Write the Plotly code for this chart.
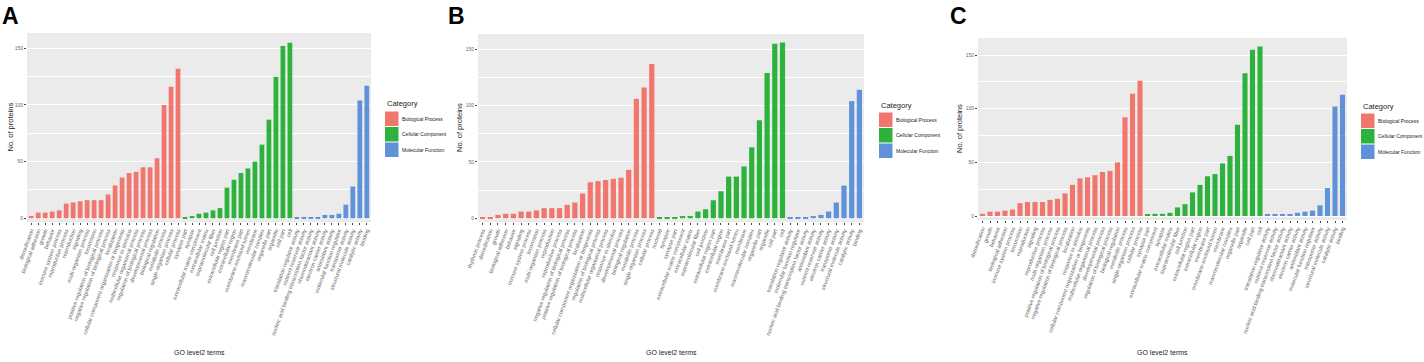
import plotly.graph_objects as go

W, H = 1424, 362

# ---------------- DATA ----------------
cat_names = ["Biological Process", "Cellular Component", "Molecular Function"]
cat_colors = ["#F0766E", "#2DB23E", "#5F92D8"]

# Panel A
a_bp_terms = ["detoxification", "biological adhesion", "growth", "behavior", "immune system process",
              "reproductive process", "reproduction", "signaling", "multi-organism process", "locomotion",
              "positive regulation of biological process", "negative regulation of biological process",
              "localization", "cellular component organization or biogenesis", "response to stimulus",
              "multicellular organismal process", "regulation of biological process", "developmental process",
              "biological regulation", "metabolic process", "single-organism process", "cellular process"]
a_bp_vals = [2, 5, 5, 6, 7, 13, 14, 15, 16, 16, 16, 21, 29, 36, 40, 41, 45, 45, 53, 100, 116, 132]
a_cc_terms = ["synapse part", "synapse", "extracellular matrix component", "extracellular matrix",
              "supramolecular fiber", "cell junction", "extracellular region part", "extracellular region",
              "membrane part", "membrane-enclosed lumen", "membrane", "macromolecular complex",
              "organelle part", "organelle", "cell part", "cell"]
a_cc_vals = [1, 2, 4, 5, 7, 9, 27, 34, 40, 44, 50, 65, 87, 125, 152, 155]
a_mf_terms = ["translation regulator activity", "nutrient reservoir activity",
              "nucleic acid binding transcription factor activity", "chemoattractant activity",
              "electron carrier activity", "antioxidant activity", "molecular function regulator",
              "transporter activity", "structural molecule activity", "catalytic activity", "binding"]
a_mf_vals = [1, 1, 1, 1, 3, 3, 4, 12, 28, 104, 117]

# Panel B
b_bp_terms = ["rhythmic process", "detoxification", "growth", "biological adhesion", "behavior", "signaling",
              "immune system process", "locomotion", "multi-organism process", "reproduction",
              "reproductive process", "negative regulation of biological process",
              "positive regulation of biological process", "localization",
              "cellular component organization or biogenesis", "regulation of biological process",
              "multicellular organismal process", "response to stimulus", "developmental process",
              "biological regulation", "metabolic process", "single-organism process", "cellular process"]
b_bp_vals = [1, 1, 3, 4, 4, 6, 6, 7, 9, 9, 9, 12, 14, 22, 32, 33, 34, 35, 36, 43, 106, 116, 137]
b_cc_terms = ["nucleoid", "synapse", "synapse part", "extracellular matrix component", "extracellular matrix",
              "supramolecular fiber", "cell junction", "extracellular region part", "extracellular region",
              "membrane part", "membrane-enclosed lumen", "membrane", "macromolecular complex",
              "organelle part", "organelle", "cell part", "cell"]
b_cc_vals = [1, 1, 1, 2, 2, 6, 8, 16, 24, 37, 37, 46, 63, 87, 129, 155, 156]
b_mf_terms = ["translation regulator activity", "molecular function regulator",
              "nucleic acid binding transcription factor activity", "antioxidant activity",
              "nutrient reservoir activity", "electron carrier activity", "transporter activity",
              "structural molecule activity", "catalytic activity", "binding"]
b_mf_vals = [1, 1, 1, 2, 3, 6, 14, 29, 104, 114]

# Panel C
c_bp_terms = ["detoxification", "growth", "behavior", "biological adhesion", "immune system process",
              "locomotion", "reproduction", "signaling", "reproductive process", "multi-organism process",
              "positive regulation of biological process", "negative regulation of biological process",
              "localization", "response to stimulus", "cellular component organization or biogenesis",
              "multicellular organismal process", "developmental process", "regulation of biological process",
              "biological regulation", "metabolic process", "single-organism process", "cellular process"]
c_bp_vals = [2, 4, 4, 5, 6, 12, 13, 13, 13, 15, 16, 21, 29, 35, 36, 38, 41, 42, 50, 92, 114, 126]
c_cc_terms = ["synapse part", "extracellular matrix component", "synapse", "extracellular matrix",
              "supramolecular fiber", "cell junction", "extracellular region part", "extracellular region",
              "membrane part", "membrane-enclosed lumen", "membrane", "macromolecular complex",
              "organelle part", "organelle", "cell part", "cell"]
c_cc_vals = [1, 2, 2, 3, 8, 11, 22, 29, 37, 39, 49, 56, 85, 133, 155, 158]
c_mf_terms = ["translation regulator activity", "nutrient reservoir activity",
              "nucleic acid binding transcription factor activity", "chemoattractant activity",
              "electron carrier activity", "antioxidant activity", "molecular function regulator",
              "transporter activity", "structural molecule activity", "catalytic activity", "binding"]
c_mf_vals = [1, 1, 1, 1, 3, 4, 5, 10, 26, 102, 113]

y_ticks = [0, 50, 100, 150]
y_minor = [25, 75, 125]
panel_letters = ["A", "B", "C"]

panels = [
    [(a_bp_terms, a_bp_vals), (a_cc_terms, a_cc_vals), (a_mf_terms, a_mf_vals)],
    [(b_bp_terms, b_bp_vals), (b_cc_terms, b_cc_vals), (b_mf_terms, b_mf_vals)],
    [(c_bp_terms, c_bp_vals), (c_cc_terms, c_cc_vals), (c_mf_terms, c_mf_vals)],
]

# ---------------- LAYOUT (pixels) ----------------
geo = [
    dict(left=27, right=371, top=33, zero=218.3, ppu=1.1333, bottom=222, leg_x=385, leg_y=104, letter_x=0, ytitle_x=10),
    dict(left=478, right=864, top=34, zero=218.3, ppu=1.1267, bottom=222, leg_x=879, leg_y=105, letter_x=446, ytitle_x=459),
    dict(left=978, right=1347, top=38, zero=216, ppu=1.0733, bottom=220, leg_x=1361, leg_y=106, letter_x=948, ytitle_x=960),
]

FONT = "Liberation Sans, Arial, sans-serif"


def px_x(p):
    return p / W


def px_y(p):
    return 1 - p / H


fig = go.Figure()
layout = dict(
    width=W, height=H, margin=dict(l=0, r=0, t=0, b=0),
    paper_bgcolor="white", plot_bgcolor="#EBEBEB", showlegend=False,
    font=dict(family=FONT),
)
annotations = []
shapes = []

for pi, (panel, g) in enumerate(zip(panels, geo)):
    sfx = "" if pi == 0 else str(pi + 1)
    xa, ya = "x" + sfx, "y" + sfx
    all_terms = []
    for ci, (terms, vals) in enumerate(panel):
        start = len(all_terms)
        xs = list(range(start, start + len(terms)))
        all_terms += terms
        fig.add_trace(go.Bar(x=xs, y=vals, marker=dict(color=cat_colors[ci], line=dict(width=0)),
                             width=0.68, xaxis=xa, yaxis=ya, name=cat_names[ci], hoverinfo="y"))
    n = len(all_terms)
    lo = -(g["bottom"] - g["zero"]) / g["ppu"]
    hi = (g["zero"] - g["top"]) / g["ppu"]
    layout["xaxis" + sfx] = dict(
        domain=[px_x(g["left"]), px_x(g["right"])], range=[-0.6, n - 0.4], anchor=ya,
        tickvals=list(range(n)), ticktext=all_terms, tickangle=-70,
        tickfont=dict(size=5.5, color="#6A6A6A", family=FONT), ticks="outside", ticklen=2,
        tickcolor="#444444", tickwidth=0.6, showgrid=False, zeroline=False, automargin=False,
        showline=False,
    )
    layout["yaxis" + sfx] = dict(
        domain=[px_y(g["bottom"]), px_y(g["top"])], range=[lo, hi], anchor=xa,
        tickvals=y_ticks, tickfont=dict(size=5, color="#6A6A6A", family=FONT), ticks="outside",
        ticklen=2, tickcolor="#444444", tickwidth=0.6, showgrid=True, gridcolor="white", gridwidth=1,
        minor=dict(tickvals=y_minor, showgrid=True, gridcolor="white", gridwidth=0.5, ticks=""),
        zeroline=False, automargin=False, showline=False,
    )
    # panel letter
    annotations.append(dict(text="<b>%s</b>" % panel_letters[pi], xref="paper", yref="paper",
                            x=px_x(g["letter_x"]), y=px_y(16.5), xanchor="left", yanchor="middle",
                            showarrow=False, font=dict(size=23, color="black", family=FONT)))
    # axis titles
    annotations.append(dict(text="No. of proteins", xref="paper", yref="paper",
                            x=px_x(g["ytitle_x"]), y=px_y((g["top"] + g["bottom"]) / 2),
                            textangle=-90, showarrow=False, xanchor="center", yanchor="middle",
                            font=dict(size=7.5, color="#222222", family=FONT)))
    annotations.append(dict(text="GO level2 terms", xref="paper", yref="paper",
                            x=px_x((g["left"] + g["right"]) / 2), y=px_y(352),
                            showarrow=False, xanchor="center", yanchor="middle",
                            font=dict(size=7, color="#222222", family=FONT)))
    # legend
    lx, ly = g["leg_x"], g["leg_y"]
    annotations.append(dict(text="Category", xref="paper", yref="paper", x=px_x(lx), y=px_y(ly),
                            showarrow=False, xanchor="left", yanchor="middle",
                            font=dict(size=7.5, color="#222222", family=FONT)))
    for ci in range(3):
        y0 = ly + 7.5 + ci * 15.5
        shapes.append(dict(type="rect", xref="paper", yref="paper",
                           x0=px_x(lx), x1=px_x(lx + 13.5), y0=px_y(y0), y1=px_y(y0 + 14.5),
                           fillcolor=cat_colors[ci], line=dict(width=0)))
        annotations.append(dict(text=cat_names[ci], xref="paper", yref="paper",
                                x=px_x(lx + 14.5), y=px_y(y0 + 7.3), showarrow=False,
                                xanchor="left", yanchor="middle",
                                font=dict(size=5, color="#222222", family=FONT)))

layout["annotations"] = annotations
layout["shapes"] = shapes
fig.update_layout(**layout)
fig.write_html("out.html", config={"displayModeBar": False},
               post_script="document.body.style.margin='0';document.body.style.overflow='hidden';")
